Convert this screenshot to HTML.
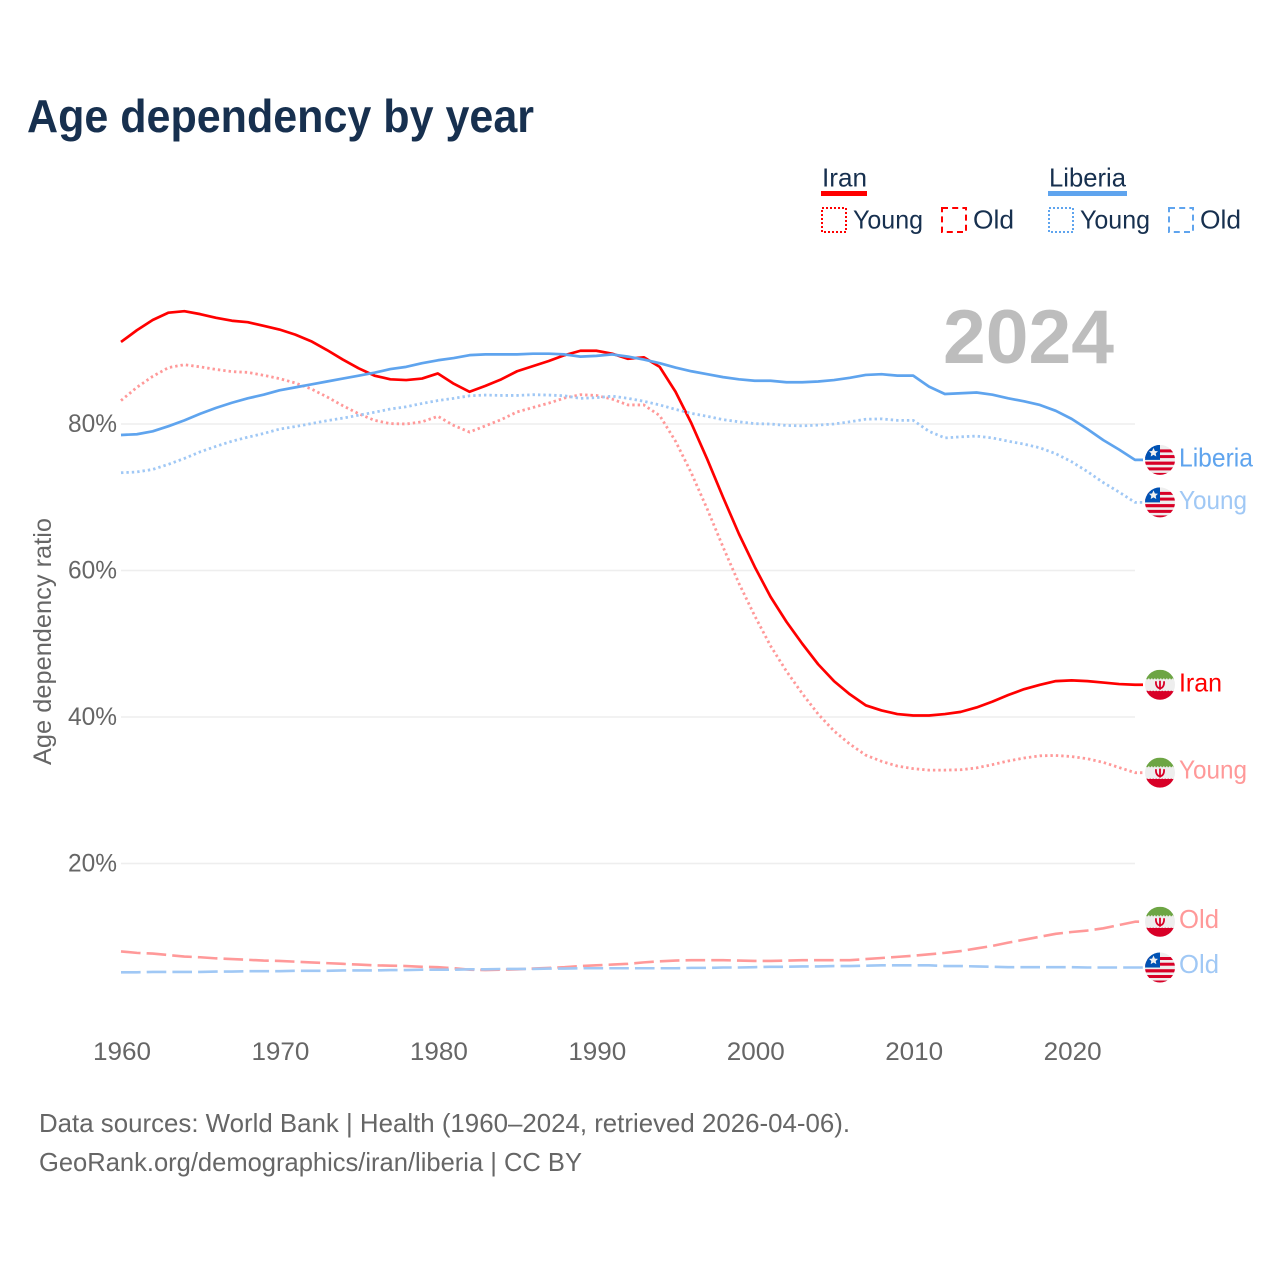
<!DOCTYPE html>
<html lang="en">
<head>
<meta charset="utf-8">
<title>Age dependency by year</title>
<style>
html,body{margin:0;padding:0;background:#fff;}
svg{display:block;font-family:"Liberation Sans",sans-serif;}
</style>
</head>
<body>
<svg id="chart" xmlns="http://www.w3.org/2000/svg" width="1280" height="1280" viewBox="0 0 1280 1280">
  <defs>
    <clipPath id="flag-clip"><circle cx="0" cy="0" r="15"></circle></clipPath>
    <g id="flag-liberia" clip-path="url(#flag-clip)">
      <rect x="-15" y="-15" width="30" height="30" fill="#eeeeee"></rect>
      <rect x="-15" y="-10.5" width="30" height="3" fill="#d80027"></rect>
      <rect x="-15" y="-4.8" width="30" height="3" fill="#d80027"></rect>
      <rect x="-15" y="1.7" width="30" height="3.2" fill="#d80027"></rect>
      <rect x="-15" y="7.5" width="30" height="3" fill="#d80027"></rect>
      <rect x="-15" y="13" width="30" height="3" fill="#d80027"></rect>
      <rect x="-15" y="-15" width="15" height="15" fill="#0052b4"></rect>
      <polygon points="-6.5,-12 -5.1,-8.9 -2,-8.6 -4.3,-6.5 -3.7,-3.4 -6.5,-5 -9.3,-3.4 -8.7,-6.5 -11,-8.6 -7.9,-8.9" fill="#f0f0f0"></polygon>
    </g>
    <g id="flag-iran" clip-path="url(#flag-clip)">
      <rect x="-15" y="-15" width="30" height="30" fill="#eeeeee"></rect>
      <rect x="-15" y="-15" width="30" height="9.5" fill="#6da544"></rect>
      <rect x="-15" y="6" width="30" height="9.5" fill="#d80027"></rect>
      <path d="M-15 -5.5h30M-15 5.5h30" stroke="#eeeeee" stroke-width="1.6" stroke-dasharray="1.5 1.5" fill="none"></path>
      <path d="M-4 -3.5 C-4.5 1.5 -2 3.5 0 3.5 C2 3.5 4.5 1.5 4 -3.5 M0 -4 V5" stroke="#d80027" stroke-width="1.8" fill="none"></path>
    </g>
  </defs>

  <rect x="0" y="0" width="1280" height="1280" fill="#ffffff"></rect>

  <text x="27" y="132" font-size="46" font-weight="700" fill="#17304f" textLength="507" lengthAdjust="spacingAndGlyphs">Age dependency by year</text>

  <g>
    <text x="822" y="186.5" font-size="26" fill="#17304f" textLength="45" lengthAdjust="spacingAndGlyphs">Iran</text>
    <rect x="821" y="191" width="46" height="5" fill="#ff0000"></rect>
    <rect x="822" y="208" width="24" height="24" fill="none" stroke="#ff0000" stroke-width="2" stroke-dasharray="2 2"></rect>
    <text x="853" y="228.5" font-size="26" fill="#17304f" textLength="70" lengthAdjust="spacingAndGlyphs">Young</text>
    <rect x="942" y="208" width="24" height="24" fill="none" stroke="#ff0000" stroke-width="2" stroke-dasharray="6 4.2"></rect>
    <text x="973" y="228.5" font-size="26" fill="#17304f" textLength="41" lengthAdjust="spacingAndGlyphs">Old</text>

    <text x="1049" y="186.5" font-size="26" fill="#17304f" textLength="77" lengthAdjust="spacingAndGlyphs">Liberia</text>
    <rect x="1048" y="191" width="79" height="5" fill="#5fa4ee"></rect>
    <rect x="1049" y="208" width="24" height="24" fill="none" stroke="#5fa4ee" stroke-width="2" stroke-dasharray="2 2"></rect>
    <text x="1080" y="228.5" font-size="26" fill="#17304f" textLength="70" lengthAdjust="spacingAndGlyphs">Young</text>
    <rect x="1169" y="208" width="24" height="24" fill="none" stroke="#5fa4ee" stroke-width="2" stroke-dasharray="6 4.2"></rect>
    <text x="1200" y="228.5" font-size="26" fill="#17304f" textLength="41" lengthAdjust="spacingAndGlyphs">Old</text>
  </g>

  <g id="grid"></g>
  <g id="y-ticks"></g>
  <g id="x-ticks"></g>

  <text transform="translate(51,641.5) rotate(-90)" text-anchor="middle" font-size="25" fill="#666666" textLength="247" lengthAdjust="spacingAndGlyphs">Age dependency ratio</text>

  <text x="943" y="363" font-size="76" font-weight="700" fill="#bdbdbd" textLength="171" lengthAdjust="spacingAndGlyphs">2024</text>

  <g id="series"></g>
  <g id="ends"></g>

  <text x="39" y="1132" font-size="26" fill="#666666" textLength="811" lengthAdjust="spacingAndGlyphs">Data sources: World Bank | Health (1960–2024, retrieved 2026-04-06).</text>
  <text x="39" y="1171" font-size="26" fill="#666666" textLength="543" lengthAdjust="spacingAndGlyphs">GeoRank.org/demographics/iran/liberia | CC BY</text>
</svg>

<script>
const startYear = 1960;
const endYear = 2024;
const xTickYears = [1960, 1970, 1980, 1990, 2000, 2010, 2020];
const yTickValues = [20, 40, 60, 80];

const iranTotal = [91.2,92.8,94.2,95.2,95.4,95.0,94.5,94.1,93.9,93.4,92.9,92.2,91.3,90.1,88.8,87.6,86.6,86.1,86.0,86.2,86.9,85.5,84.4,85.2,86.1,87.2,87.9,88.6,89.4,90.0,90.0,89.6,88.9,89.1,87.8,84.4,80.1,75.2,70.0,65.0,60.5,56.4,53.0,50.0,47.2,44.9,43.1,41.6,40.9,40.4,40.2,40.2,40.4,40.7,41.3,42.1,43.0,43.8,44.4,44.9,45.0,44.9,44.7,44.5,44.4];
const iranYoung = [83.2,85.0,86.5,87.7,88.1,87.8,87.45,87.15,87.05,86.65,86.2,85.6,84.8,83.7,82.5,81.4,80.5,80.05,80.0,80.3,81.05,79.8,78.9,79.75,80.6,81.65,82.25,82.85,83.55,84.0,83.9,83.4,82.6,82.6,81.15,77.65,73.3,68.4,63.2,58.25,53.8,49.7,46.25,43.2,40.4,38.1,36.3,34.8,33.95,33.3,32.95,32.75,32.75,32.8,33.05,33.5,34.0,34.4,34.7,34.75,34.6,34.3,33.8,33.1,32.4];
const iranOld = [8.0,7.8,7.7,7.5,7.3,7.2,7.05,6.95,6.85,6.75,6.7,6.6,6.5,6.4,6.3,6.2,6.1,6.05,6.0,5.9,5.85,5.7,5.5,5.45,5.5,5.55,5.65,5.75,5.85,6.0,6.1,6.2,6.3,6.5,6.65,6.75,6.8,6.8,6.8,6.75,6.7,6.7,6.75,6.8,6.8,6.8,6.8,6.95,7.1,7.25,7.4,7.6,7.8,8.05,8.4,8.75,9.2,9.6,10.0,10.4,10.65,10.85,11.15,11.6,12.05];
const liberiaTotal = [78.5,78.6,79.0,79.7,80.5,81.4,82.2,82.9,83.5,84.0,84.6,85.0,85.4,85.8,86.2,86.6,87.0,87.5,87.8,88.3,88.7,89.0,89.4,89.5,89.5,89.5,89.6,89.6,89.5,89.2,89.3,89.5,89.2,88.8,88.3,87.7,87.2,86.8,86.4,86.1,85.9,85.9,85.7,85.7,85.8,86.0,86.3,86.7,86.8,86.6,86.6,85.1,84.1,84.2,84.3,84.0,83.5,83.1,82.6,81.8,80.7,79.3,77.8,76.5,75.1];
const liberiaYoung = [73.35,73.45,73.8,74.5,75.3,76.2,76.95,77.65,78.2,78.7,79.3,79.65,80.05,80.45,80.8,81.2,81.6,82.05,82.35,82.8,83.2,83.5,83.85,83.95,83.9,83.9,84.0,83.95,83.85,83.5,83.6,83.8,83.5,83.1,82.6,82.0,81.45,81.05,80.6,80.3,80.05,80.0,79.8,79.75,79.85,80.0,80.3,80.65,80.7,80.5,80.5,79.0,78.1,78.25,78.35,78.1,77.65,77.25,76.75,75.95,74.85,73.5,72.0,70.7,69.3];
const liberiaOld = [5.15,5.15,5.2,5.2,5.2,5.2,5.25,5.25,5.3,5.3,5.3,5.35,5.35,5.35,5.4,5.4,5.4,5.45,5.45,5.5,5.5,5.5,5.55,5.55,5.6,5.6,5.6,5.65,5.65,5.7,5.7,5.7,5.7,5.7,5.7,5.7,5.75,5.75,5.8,5.8,5.85,5.9,5.9,5.95,5.95,6.0,6.0,6.05,6.1,6.1,6.1,6.1,6.0,6.0,5.95,5.9,5.85,5.85,5.85,5.85,5.85,5.8,5.8,5.8,5.8];

const NS = 'http://www.w3.org/2000/svg';
const plotLeft = 121;
const plotRight = 1135;
const yZero = 1010;
const pxPerPercent = 7.325;

function xScale(year) {
  return plotLeft + (year - startYear) * (plotRight - plotLeft) / (endYear - startYear);
}
function yScale(value) {
  return yZero - value * pxPerPercent;
}

const gridLayer = document.getElementById('grid');
const yTickLayer = document.getElementById('y-ticks');
const xTickLayer = document.getElementById('x-ticks');
const seriesLayer = document.getElementById('series');
const endLayer = document.getElementById('ends');

yTickValues.forEach(function (v) {
  const line = document.createElementNS(NS, 'line');
  
  
  line.setAttribute('x1', plotLeft);
  line.setAttribute('x2', plotRight);
  line.setAttribute('y1', yScale(v));
  line.setAttribute('y2', yScale(v));
  line.setAttribute('stroke', '#eeeeee');
  line.setAttribute('stroke-width', '1.6');
  gridLayer.appendChild(line);

  const label = document.createElementNS(NS, 'text');
  
  
  label.setAttribute('x', 68);
  label.setAttribute('y', yScale(v) + 8);
  label.setAttribute('font-size', '25');
  label.setAttribute('fill', '#666666');
  label.setAttribute('textLength', '49');
  label.setAttribute('lengthAdjust', 'spacingAndGlyphs');
  label.textContent = v + '%';
  yTickLayer.appendChild(label);
});

xTickYears.forEach(function (year) {
  const label = document.createElementNS(NS, 'text');
  
  
  label.setAttribute('x', xScale(year) - 28);
  label.setAttribute('y', 1060);
  label.setAttribute('font-size', '25');
  label.setAttribute('fill', '#666666');
  label.setAttribute('textLength', '58');
  label.setAttribute('lengthAdjust', 'spacingAndGlyphs');
  label.textContent = String(year);
  xTickLayer.appendChild(label);
});

function drawSeries(name, values, color, dash, width) {
  let d = '';
  values.forEach(function (v, i) {
    d += (i === 0 ? 'M' : 'L') + xScale(startYear + i).toFixed(2) + ' ' + yScale(v).toFixed(2);
  });
  const last = values[values.length - 1];
  d += 'L' + (plotRight + 8) + ' ' + yScale(last).toFixed(2);
  const path = document.createElementNS(NS, 'path');
  
  
  path.setAttribute('d', d);
  path.setAttribute('fill', 'none');
  path.setAttribute('stroke', color);
  path.setAttribute('stroke-width', width);
  path.setAttribute('stroke-linejoin', 'round');
  if (dash) path.setAttribute('stroke-dasharray', dash);
  seriesLayer.appendChild(path);
}

function drawEnd(name, values, flag, text, color, textWidth, labelOffset) {
  const y = yScale(values[values.length - 1]);
  const use = document.createElementNS(NS, 'use');
  
  
  use.setAttribute('href', '#' + flag);
  use.setAttribute('transform', 'translate(1160 ' + y.toFixed(2) + ')');
  endLayer.appendChild(use);

  const label = document.createElementNS(NS, 'text');
  
  
  label.setAttribute('x', 1179);
  label.setAttribute('y', (y + labelOffset).toFixed(2));
  label.setAttribute('font-size', '26');
  label.setAttribute('fill', color);
  label.setAttribute('textLength', textWidth);
  label.setAttribute('lengthAdjust', 'spacingAndGlyphs');
  label.textContent = text;
  endLayer.appendChild(label);
}

const dotted = '2.4 3';
const dashed = '19.6 6.1';
drawSeries('iran-old', iranOld, '#ff9999', dashed, 2.6);
drawSeries('iran-young', iranYoung, '#ff9999', dotted, 2.8);
drawSeries('iran-total', iranTotal, '#ff0000', null, 2.7);
drawSeries('liberia-old', liberiaOld, '#a0c8f5', dashed, 2.6);
drawSeries('liberia-young', liberiaYoung, '#a0c8f5', dotted, 2.8);
drawSeries('liberia-total', liberiaTotal, '#5fa4ee', null, 2.7);

drawEnd('liberia-total', liberiaTotal, 'flag-liberia', 'Liberia', '#5fa4ee', 74, 6.5);
drawEnd('liberia-young', liberiaYoung, 'flag-liberia', 'Young', '#a0c8f5', 68, 6.5);
drawEnd('iran-total', iranTotal, 'flag-iran', 'Iran', '#ff0000', 43, 6.5);
drawEnd('iran-young', iranYoung, 'flag-iran', 'Young', '#ff9999', 68, 6);
drawEnd('iran-old', iranOld, 'flag-iran', 'Old', '#ff9999', 40, 6.5);
drawEnd('liberia-old', liberiaOld, 'flag-liberia', 'Old', '#a0c8f5', 40, 5.5);
</script>
</body>
</html>
